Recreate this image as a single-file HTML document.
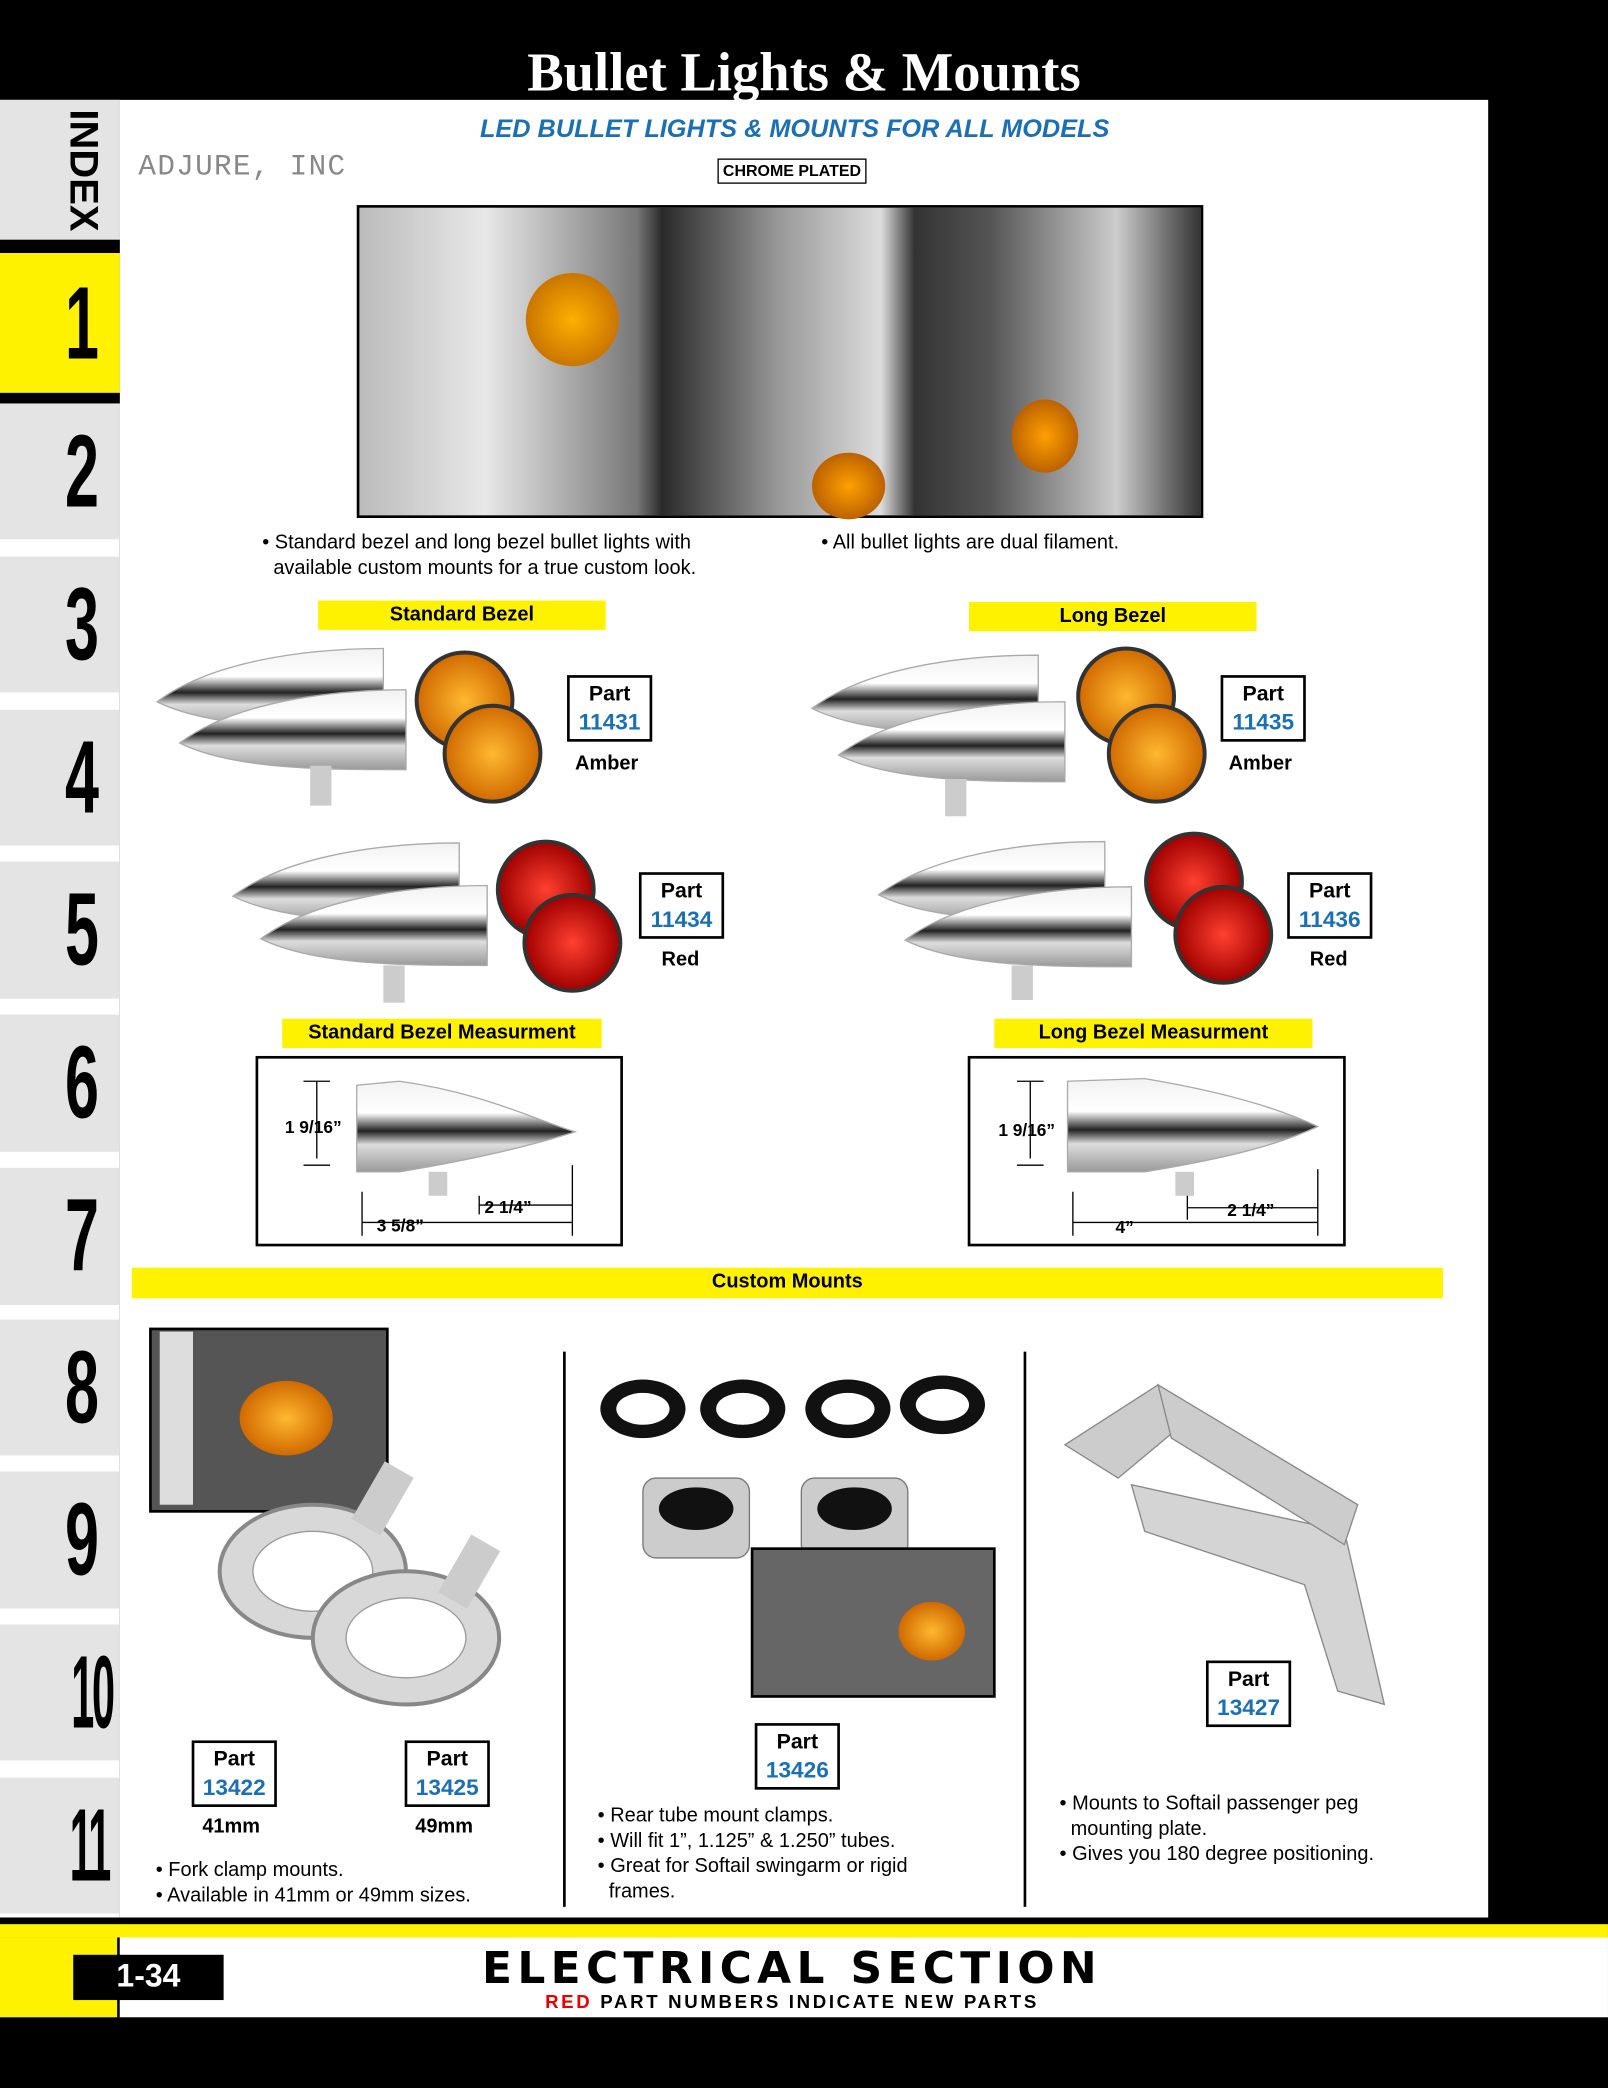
<!DOCTYPE html>
<html><head><meta charset="utf-8"><style>
*{margin:0;padding:0;box-sizing:border-box}
html,body{width:1608px;height:2088px;overflow:hidden;background:#000}
#w{position:absolute;left:0;top:0;width:1208px;height:1568px;transform:scale(1.3311,1.3316);transform-origin:0 0;background:#000;font-family:"Liberation Sans",Arial,sans-serif}
.a{position:absolute}
.tab{position:absolute;left:0;width:90px;background:#e4e4e4;font-family:"Liberation Sans",sans-serif;font-weight:bold;font-size:74px;color:#000;text-align:center;line-height:102px;padding-left:34px;overflow:hidden}
.tab span{display:inline-block;transform:scale(0.62,1.05)}
.tab.two{padding-left:32px}
.tab.two span{transform:scale(0.42,1.05);letter-spacing:-4px}
.y{position:absolute;background:#fff200;font-weight:bold;font-size:15px;text-align:center;line-height:22px;color:#000}
.pb{position:absolute;border:2px solid #000;background:#fff;text-align:center;font-weight:bold;font-size:16px;line-height:21px;padding-top:2px}
.pb b{color:#1a6fb5;display:block;font-size:17px}
.t{position:absolute;font-size:15px;line-height:19px;color:#000}
.lbl{position:absolute;font-weight:bold;font-size:15px}
</style></head><body><div id="w">
<div class="a" style="left:0;top:0;width:1208px;height:75px;background:#000"></div>
<div class="a" style="left:0;top:30px;width:1208px;text-align:center;color:#fff;font-family:'Liberation Serif',serif;font-weight:bold;font-size:41px">Bullet Lights &amp; Mounts</div>
<div class="a" style="left:90px;top:75px;width:1028px;height:1365px;background:#fff"></div>
<div class="a" style="left:0;top:75px;width:90px;height:1365px;background:#fff"></div>
<div class="a" style="left:0;top:75px;width:90px;height:105px;background:#e4e4e4;overflow:hidden">
<div class="a" style="left:10px;top:38px;width:104px;height:30px;transform:rotate(90deg);font-weight:bold;font-size:30px;line-height:30px;text-align:center;color:#000">INDEX</div></div>
<div class="a" style="left:0;top:180px;width:90px;height:10px;background:#000"></div>
<div class="tab" style="top:190px;height:105px;background:#fff200;line-height:105px"><span>1</span></div>
<div class="a" style="left:0;top:295px;width:90px;height:8px;background:#000"></div>
<div class="tab" style="top:303px;height:102px"><span>2</span></div>
<div class="tab" style="top:418px;height:102px"><span>3</span></div>
<div class="tab" style="top:533px;height:102px"><span>4</span></div>
<div class="tab" style="top:647px;height:103px"><span>5</span></div>
<div class="tab" style="top:762px;height:103px"><span>6</span></div>
<div class="tab" style="top:877px;height:103px"><span>7</span></div>
<div class="tab" style="top:991px;height:102px"><span>8</span></div>
<div class="tab" style="top:1105px;height:103px"><span>9</span></div>
<div class="tab two" style="top:1220px;height:102px"><span>10</span></div>
<div class="tab two" style="top:1335px;height:102px"><span>11</span></div>
<div class="a" style="left:300px;top:87px;width:594px;text-align:center;color:#1a6fb5;font-style:italic;font-weight:bold;font-size:19px">LED BULLET LIGHTS &amp; MOUNTS FOR ALL MODELS</div>
<div class="a" style="left:104px;top:113px;color:#888;font-size:22px;letter-spacing:1px;font-family:'Liberation Mono',monospace">ADJURE, INC</div>
<div class="a" style="left:539px;top:119px;width:112px;height:19px;border:1.5px solid #000;font-size:12px;font-weight:bold;text-align:center;line-height:16px">CHROME PLATED</div>
<div class="a" style="left:268px;top:154px;width:636px;height:235px;border:2px solid #000;background:linear-gradient(90deg,#bbb 0%,#e8e8e8 15%,#777 33%,#2a2a2a 36%,#999 50%,#ddd 62%,#333 66%,#555 75%,#ccc 90%,#333 100%)"></div>
<div class="a" style="left:395px;top:205px;width:70px;height:70px;border-radius:50%;background:radial-gradient(#ffb000,#b35d00)"></div>
<div class="a" style="left:610px;top:340px;width:55px;height:50px;border-radius:50%;background:radial-gradient(#ffa000,#a04800)"></div>
<div class="a" style="left:760px;top:300px;width:50px;height:55px;border-radius:50%;background:radial-gradient(#ffa000,#a04800)"></div>
<div class="t" style="left:197px;top:398px">• Standard bezel and long bezel bullet lights with<br>&nbsp;&nbsp;available custom mounts for a true custom look.</div>
<div class="t" style="left:617px;top:398px">• All bullet lights are dual filament.</div>
<div class="y" style="left:239px;top:451px;width:216px">Standard Bezel</div>
<div class="y" style="left:728px;top:452px;width:216px">Long Bezel</div>
<svg class="a" style="left:0;top:0" width="1208" height="1568">
<defs>
<linearGradient id="c" x1="0" y1="0" x2="0" y2="1"><stop offset="0" stop-color="#f2f2f2"/><stop offset=".35" stop-color="#fff"/><stop offset=".55" stop-color="#222"/><stop offset=".7" stop-color="#ddd"/><stop offset="1" stop-color="#999"/></linearGradient>
<radialGradient id="am"><stop offset="0" stop-color="#ffb830"/><stop offset="1" stop-color="#d06a00"/></radialGradient>
<radialGradient id="rd"><stop offset="0" stop-color="#ff4030"/><stop offset="1" stop-color="#a00000"/></radialGradient>
<g id="bs"><path d="M0,40 C40,10 110,0 170,0 L170,60 C110,60 40,60 0,40Z" fill="url(#c)" stroke="#aaa"/></g>
</defs>
<use href="#bs" x="118" y="487"/><use href="#bs" x="135" y="518"/>
<rect x="233" y="575" width="16" height="30" fill="#ccc"/>
<circle cx="349" cy="526" r="36" fill="url(#am)" stroke="#333" stroke-width="3"/>
<circle cx="370" cy="566" r="36" fill="url(#am)" stroke="#333" stroke-width="3"/>
<use href="#bs" x="175" y="633"/><use href="#bs" x="196" y="665"/>
<rect x="288" y="725" width="16" height="28" fill="#ccc"/>
<circle cx="410" cy="668" r="36" fill="url(#rd)" stroke="#333" stroke-width="3"/>
<circle cx="430" cy="708" r="36" fill="url(#rd)" stroke="#333" stroke-width="3"/>
<use href="#bs" x="610" y="492"/><use href="#bs" x="630" y="527"/>
<rect x="710" y="585" width="16" height="28" fill="#ccc"/>
<circle cx="846" cy="523" r="36" fill="url(#am)" stroke="#333" stroke-width="3"/>
<circle cx="869" cy="566" r="36" fill="url(#am)" stroke="#333" stroke-width="3"/>
<use href="#bs" x="660" y="632"/><use href="#bs" x="680" y="666"/>
<rect x="760" y="725" width="16" height="26" fill="#ccc"/>
<circle cx="897" cy="662" r="36" fill="url(#rd)" stroke="#333" stroke-width="3"/>
<circle cx="919" cy="702" r="36" fill="url(#rd)" stroke="#333" stroke-width="3"/>
<rect x="193" y="794" width="274" height="141" fill="#fff" stroke="#000" stroke-width="2"/>
<rect x="728" y="794" width="282" height="141" fill="#fff" stroke="#000" stroke-width="2"/>
<path d="M268,815 L268,880 L300,880 C360,870 400,860 432,850 C400,840 360,820 300,812 Z" fill="url(#c)" stroke="#aaa"/>
<rect x="322" y="880" width="14" height="18" fill="#ccc"/>
<path d="M228,812 H248 M238,812 V870 M228,875 H248 M272,895 V928 M430,875 V928 M272,918 H430 M360,905 H430 M360,898 V912" stroke="#000" fill="none"/>
<path d="M802,812 L802,880 L860,880 C920,870 960,860 990,846 C960,832 920,820 860,810 Z" fill="url(#c)" stroke="#aaa"/>
<rect x="883" y="880" width="14" height="18" fill="#ccc"/>
<path d="M764,812 H784 M774,812 V870 M764,875 H784 M806,895 V928 M990,878 V928 M806,918 H990 M892,907 H990 M892,898 V916" stroke="#000" fill="none"/>
<line x1="424" y1="1015" x2="424" y2="1432" stroke="#000" stroke-width="2"/>
<line x1="770" y1="1015" x2="770" y2="1432" stroke="#000" stroke-width="2"/>
<rect x="113" y="998" width="178" height="137" fill="#555" stroke="#000" stroke-width="2"/>
<rect x="120" y="1000" width="25" height="130" fill="#ddd"/>
<ellipse cx="215" cy="1065" rx="35" ry="28" fill="url(#am)"/>
<ellipse cx="235" cy="1180" rx="70" ry="50" fill="#d8d8d8" stroke="#888" stroke-width="3"/>
<ellipse cx="235" cy="1180" rx="45" ry="30" fill="#fff" stroke="#999"/>
<ellipse cx="305" cy="1230" rx="70" ry="50" fill="#d8d8d8" stroke="#888" stroke-width="3"/>
<ellipse cx="305" cy="1230" rx="45" ry="30" fill="#fff" stroke="#999"/>
<rect x="275" y="1100" width="25" height="50" fill="#ccc" transform="rotate(30 287 1125)"/>
<rect x="340" y="1155" width="25" height="50" fill="#ccc" transform="rotate(30 352 1180)"/>
<ellipse cx="483" cy="1058" rx="32" ry="22" fill="#111"/><ellipse cx="483" cy="1058" rx="20" ry="12" fill="#fff"/>
<ellipse cx="558" cy="1058" rx="32" ry="22" fill="#111"/><ellipse cx="558" cy="1058" rx="20" ry="12" fill="#fff"/>
<ellipse cx="637" cy="1058" rx="32" ry="22" fill="#111"/><ellipse cx="637" cy="1058" rx="20" ry="12" fill="#fff"/>
<ellipse cx="708" cy="1055" rx="32" ry="22" fill="#111"/><ellipse cx="708" cy="1055" rx="20" ry="12" fill="#fff"/>
<rect x="483" y="1110" width="80" height="60" rx="10" fill="#ccc" stroke="#777"/>
<ellipse cx="523" cy="1133" rx="28" ry="16" fill="#111"/>
<rect x="602" y="1110" width="80" height="60" rx="10" fill="#ccc" stroke="#777"/>
<ellipse cx="642" cy="1133" rx="28" ry="16" fill="#111"/>
<rect x="565" y="1163" width="182" height="111" fill="#666" stroke="#000" stroke-width="2"/>
<ellipse cx="700" cy="1225" rx="25" ry="22" fill="url(#am)"/>
<path d="M800,1085 L870,1040 L900,1060 L840,1110 Z" fill="#ccc" stroke="#888"/>
<path d="M850,1115 L1010,1150 L1040,1280 L1005,1270 L980,1190 L860,1150 Z" fill="#d4d4d4" stroke="#888"/>
<path d="M870,1040 L1020,1130 L1010,1160 L880,1080Z" fill="#ccc" stroke="#888"/>
</svg>
<div class="pb" style="left:426px;top:507px;width:64px;height:50px">Part<b>11431</b></div>
<div class="lbl" style="left:432px;top:565px">Amber</div>
<div class="pb" style="left:480px;top:655px;width:64px;height:50px">Part<b>11434</b></div>
<div class="lbl" style="left:497px;top:712px">Red</div>
<div class="pb" style="left:917px;top:507px;width:64px;height:50px">Part<b>11435</b></div>
<div class="lbl" style="left:923px;top:565px">Amber</div>
<div class="pb" style="left:967px;top:655px;width:64px;height:50px">Part<b>11436</b></div>
<div class="lbl" style="left:984px;top:712px">Red</div>
<div class="y" style="left:212px;top:765px;width:240px">Standard Bezel Measurment</div>
<div class="y" style="left:747px;top:765px;width:239px">Long Bezel Measurment</div>
<div class="lbl" style="left:214px;top:839px;font-size:13px">1 9/16”</div>
<div class="lbl" style="left:364px;top:899px;font-size:13px">2 1/4”</div>
<div class="lbl" style="left:283px;top:913px;font-size:13px">3 5/8”</div>
<div class="lbl" style="left:750px;top:841px;font-size:13px">1 9/16”</div>
<div class="lbl" style="left:922px;top:901px;font-size:13px">2 1/4”</div>
<div class="lbl" style="left:838px;top:914px;font-size:13px">4”</div>
<div class="y" style="left:99px;top:952px;width:985px;height:23px">Custom Mounts</div>
<div class="pb" style="left:144px;top:1307px;width:64px;height:50px">Part<b>13422</b></div>
<div class="pb" style="left:304px;top:1307px;width:64px;height:50px">Part<b>13425</b></div>
<div class="lbl" style="left:152px;top:1363px">41mm</div>
<div class="lbl" style="left:312px;top:1363px">49mm</div>
<div class="t" style="left:117px;top:1395px">• Fork clamp mounts.<br>• Available in 41mm or 49mm sizes.</div>
<div class="pb" style="left:567px;top:1294px;width:64px;height:50px">Part<b>13426</b></div>
<div class="t" style="left:449px;top:1354px">• Rear tube mount clamps.<br>• Will fit 1”, 1.125” &amp; 1.250” tubes.<br>• Great for Softail swingarm or rigid<br>&nbsp;&nbsp;frames.</div>
<div class="pb" style="left:906px;top:1247px;width:64px;height:50px">Part<b>13427</b></div>
<div class="t" style="left:796px;top:1345px">• Mounts to Softail passenger peg<br>&nbsp;&nbsp;mounting plate.<br>• Gives you 180 degree positioning.</div>
<div class="a" style="left:0;top:1440px;width:1208px;height:5px;background:#000"></div>
<div class="a" style="left:0;top:1445px;width:1208px;height:10px;background:#fff200"></div>
<div class="a" style="left:0;top:1455px;width:90px;height:60px;background:#fff200"></div>
<div class="a" style="left:88px;top:1455px;width:2px;height:60px;background:#000"></div>
<div class="a" style="left:90px;top:1455px;width:1118px;height:60px;background:#fff"></div>
<div class="a" style="left:0;top:1515px;width:1208px;height:53px;background:#000"></div>
<div class="a" style="left:55px;top:1468px;width:113px;height:34px;background:#000;color:#fff;font-weight:bold;font-size:24px;text-align:center;line-height:34px">1-34</div>
<div class="a" style="left:300px;top:1458px;width:590px;text-align:center;font-weight:bold;font-size:33px;letter-spacing:4px;font-family:'DejaVu Sans','Liberation Sans',sans-serif">ELECTRICAL SECTION</div>
<div class="a" style="left:300px;top:1495px;width:590px;text-align:center;font-weight:bold;font-size:14px;letter-spacing:2px"><span style="color:#e00">RED</span> PART NUMBERS INDICATE NEW PARTS</div>
</div></body></html>
